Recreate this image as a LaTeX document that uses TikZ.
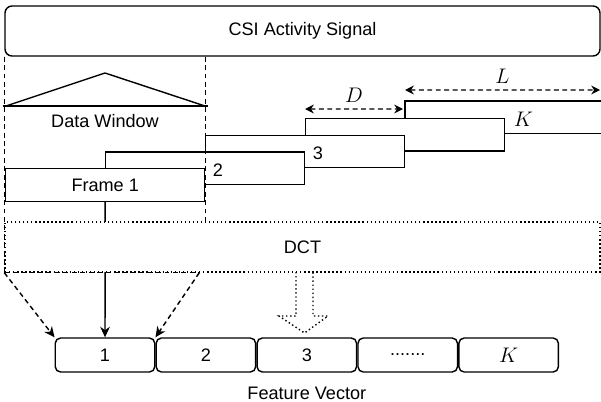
\documentclass[tikz,border=0pt]{standalone}
\usepackage{fontspec}
\setmainfont{Liberation Sans}
\usetikzlibrary{positioning,calc,arrows.meta}

\begin{document}
\begin{tikzpicture}[
  font=\fontsize{10.3}{12}\selectfont,
  line width=0.8pt,
  sigbox/.style={draw, rounded corners=4pt, minimum width=11.9cm,
                 minimum height=1cm, inner sep=0pt},
  frm/.style={draw, fill=white, minimum width=3.98cm, minimum height=0.65cm,
              inner sep=0pt, anchor=north west},
  featbox/.style={draw, rounded corners=3pt, minimum width=1.99cm,
                  minimum height=0.68cm, inner sep=0pt},
  dotline/.style={dash pattern=on 0.8pt off 1.5pt},
  guide/.style={dash pattern=on 2.8pt off 2pt},
  span/.style={guide, {Stealth[length=5pt,width=5pt]}-{Stealth[length=5pt,width=5pt]}},
  proj/.style={guide, -{Stealth[length=6pt,width=5.5pt]}},
  numlabel/.style={anchor=west},
  mathlabel/.style={font=\large},
]
\useasboundingbox (0,0) rectangle (12.02,-8.02);

\node[sigbox] (csi) at (6.05,-0.62) {CSI Activity Signal};

% data window
\draw (0.06,-2.12) -- (4.16,-2.12);
\draw (0.12,-2.12) -- (2.1,-1.46) -- (4.1,-2.12);
\node (dw) at (2.1,-2.42) {Data Window};

% last frame runs off the right edge
\coordinate (fK) at (8.1,-2.02);
\draw[fill=white] (12.02,-2.02) -| (8.1,-2.67) -- (12.02,-2.67);
\foreach \i in {4,3,2,1}
  \node[frm] (f\i) at ({0.1+2*(\i-1)},{-3.36+0.335*(\i-1)}) {};
\node at (f1) {Frame 1};
\node[numlabel] at ($(f1.north east)+(0.02,-0.05)$) {2};
\node[numlabel] at ($(f2.north east)+(0.02,-0.05)$) {3};
\node[numlabel, mathlabel] at ($(f4.north east)+(0.04,-0.03)$) {$K$};

% hop and length
\draw[span] ($(f4.north west)+(0,0.175)$) -- node[above, mathlabel] {$D$}
  ($(fK)+(-0.04,-0.16)$);
\coordinate (lend) at (12.0,-1.8);
\draw[span] ($(fK)+(0,0.22)$) -- node[above, mathlabel] {$L$} (lend);

% feature vector
\node[featbox] (v1) at (2.1,-7.1) {1};
\node[featbox, right=0pt of v1] (v2) {2};
\node[featbox, right=0pt of v2] (v3) {3};
\node[featbox, right=0pt of v3] (v4) {.......};
\node[featbox, right=0pt of v4, mathlabel] (v5) {$K$};
\node[below=0.16cm of v3] (fv) {Feature Vector};

\draw[-{Stealth[length=6pt,width=5.5pt]}] (f1) -- (v1);

\node[draw, dotline, fill=white, minimum width=11.9cm, minimum height=1cm]
  (dct) at (6.05,-4.94) {DCT};

\draw[guide] (csi.south west) -- (dct.south west);
\draw[guide] (csi.south -| f1.east) -- (dct.north -| f1.east);
\coordinate (dwr) at ($(dct.south west)+(3.9,0)$);
\draw[guide] (dct.south west) -- (dwr);
\draw[proj] (dct.south west) -- (v1.north west);
\draw[proj] (dwr) -- (v1.north east);

% hollow arrow
\draw[dotline] (5.92,-5.44) -- (5.92,-6.32) -- (5.58,-6.32) -- (6.09,-6.66)
  -- (6.56,-6.32) -- (6.26,-6.32) -- (6.26,-5.44);

\end{tikzpicture}
\end{document}
